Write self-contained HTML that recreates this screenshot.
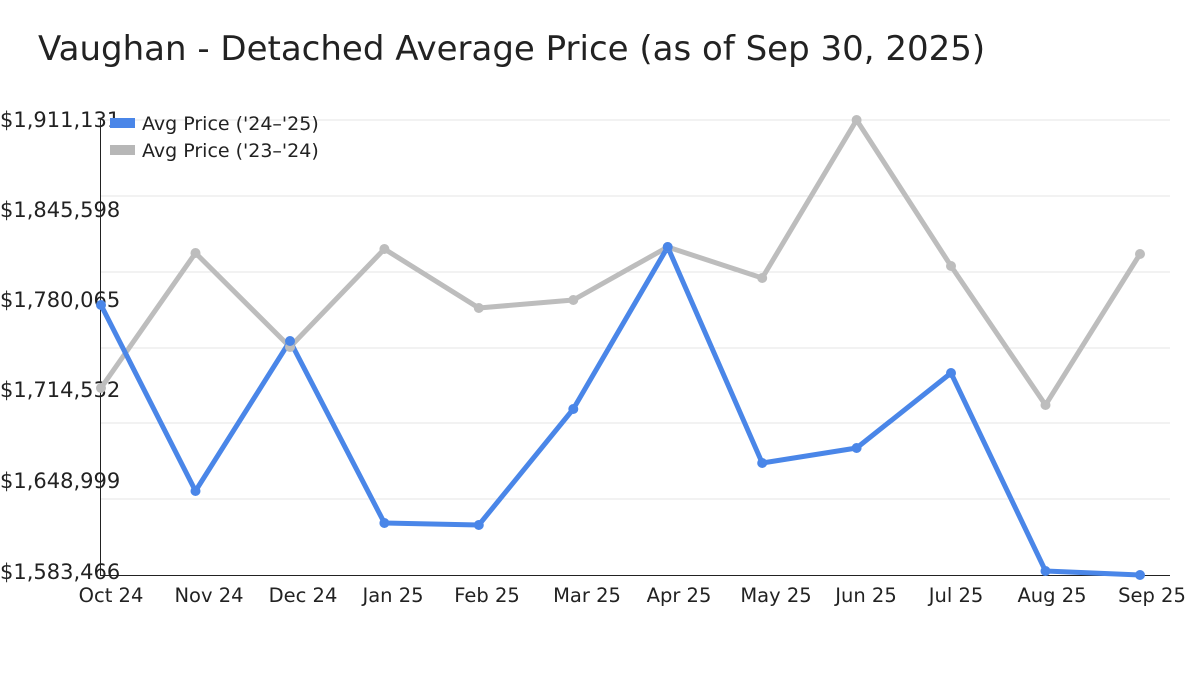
<!DOCTYPE html>
<html><head><meta charset="utf-8"><style>
html,body{margin:0;padding:0;background:#fff;}
svg{display:block;font-family:"DejaVu Sans","Liberation Sans",sans-serif;}
</style></head><body>
<svg width="1200" height="675" viewBox="0 0 1200 675">
<text x="38" y="60" font-size="34" fill="#222">Vaughan - Detached Average Price (as of Sep 30, 2025)</text>
<g stroke="#e6e6e6" stroke-width="1">
<line x1="100" y1="120" x2="1170" y2="120"/>
<line x1="100" y1="196" x2="1170" y2="196"/>
<line x1="100" y1="272" x2="1170" y2="272"/>
<line x1="100" y1="348" x2="1170" y2="348"/>
<line x1="100" y1="423" x2="1170" y2="423"/>
<line x1="100" y1="499" x2="1170" y2="499"/>
</g>
<line x1="100.5" y1="118" x2="100.5" y2="575" stroke="#222" stroke-width="1"/>
<line x1="100" y1="575.5" x2="1170" y2="575.5" stroke="#222" stroke-width="1"/>
<g font-size="21" fill="#222">
<text x="0" y="127">$1,911,131</text>
<text x="0" y="217">$1,845,598</text>
<text x="0" y="307">$1,780,065</text>
<text x="0" y="397">$1,714,532</text>
<text x="0" y="488">$1,648,999</text>
<text x="0" y="579">$1,583,466</text>
</g>
<g font-size="19.5" fill="#222" text-anchor="middle">
<text x="111" y="602">Oct 24</text>
<text x="209" y="602">Nov 24</text>
<text x="303" y="602">Dec 24</text>
<text x="393" y="602">Jan 25</text>
<text x="487" y="602">Feb 25</text>
<text x="587" y="602">Mar 25</text>
<text x="679" y="602">Apr 25</text>
<text x="776" y="602">May 25</text>
<text x="866" y="602">Jun 25</text>
<text x="956" y="602">Jul 25</text>
<text x="1052" y="602">Aug 25</text>
<text x="1152" y="602">Sep 25</text>
</g>
<g fill="none" stroke-width="5" stroke-linejoin="round">
<polyline stroke="#bdbdbd" points="101,388 195.5,253 290,347 384.4,249 478.8,308 573.3,300 667.7,247 762.2,278 856.6,120 951,266 1045.5,405 1140,254"/>
<polyline stroke="#4a86e8" points="101,305 195.5,491 290,341 384.4,523 478.8,525 573.3,409 667.7,247 762.2,463 856.6,448 951,373 1045.5,571 1140,575"/>
</g>
<g fill="#bdbdbd">
<circle cx="101" cy="388" r="5"/><circle cx="195.5" cy="253" r="5"/><circle cx="290" cy="347" r="5"/><circle cx="384.4" cy="249" r="5"/><circle cx="478.8" cy="308" r="5"/><circle cx="573.3" cy="300" r="5"/><circle cx="667.7" cy="247" r="5"/><circle cx="762.2" cy="278" r="5"/><circle cx="856.6" cy="120" r="5"/><circle cx="951" cy="266" r="5"/><circle cx="1045.5" cy="405" r="5"/><circle cx="1140" cy="254" r="5"/>
</g>
<g fill="#4a86e8">
<circle cx="101" cy="305" r="5"/><circle cx="195.5" cy="491" r="5"/><circle cx="290" cy="341" r="5"/><circle cx="384.4" cy="523" r="5"/><circle cx="478.8" cy="525" r="5"/><circle cx="573.3" cy="409" r="5"/><circle cx="667.7" cy="247" r="5"/><circle cx="762.2" cy="463" r="5"/><circle cx="856.6" cy="448" r="5"/><circle cx="951" cy="373" r="5"/><circle cx="1045.5" cy="571" r="5"/><circle cx="1140" cy="575" r="5"/>
</g>
<rect x="110" y="118" width="25" height="10" fill="#4a86e8"/>
<rect x="110" y="145" width="25" height="10" fill="#b7b7b7"/>
<g font-size="19" fill="#222">
<text x="142" y="130">Avg Price ('24–'25)</text>
<text x="142" y="157">Avg Price ('23–'24)</text>
</g>
</svg>
</body></html>
